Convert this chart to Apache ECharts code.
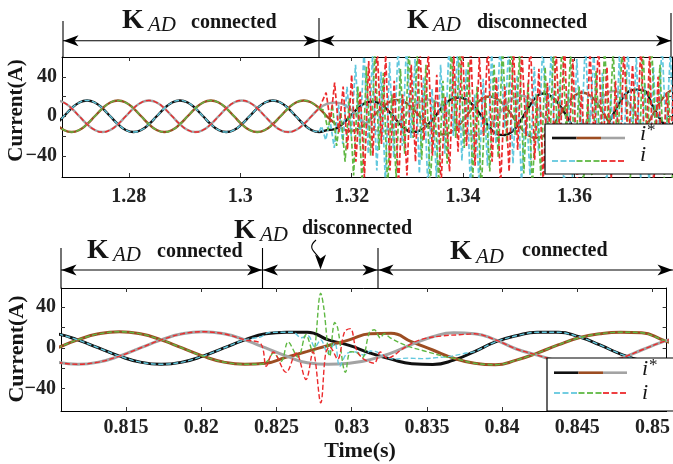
<!DOCTYPE html>
<html><head><meta charset="utf-8">
<script src="https://cdn.jsdelivr.net/npm/echarts@6/dist/echarts.min.js"></script>
<style>html,body{margin:0;padding:0;background:#fff}#c{width:673px;height:464px}</style>
</head><body><div id="c"></div>
<script>
// ================= DATA =================
// Upper plot: sample grid of the reference currents (60 Hz, 12 samples per period)
const topT0 = 1.26694;
const topDt = 1 / 720;
const topRefBlack = [-8,0,8,13.9,16,13.9,8,0,-8,-13.9,-16,-13.9,
  -8,0,8,13.9,16,13.9,8,0,-8,-13.9,-16,-13.9,
  -8,0,8,13.9,16,13.9,8,0,-8,-13.9,-16,
  -14,-13,-8,0,8,13.5,15,12,5,-4,-12,-16,-14.5,-9,0,10,17,19,17,10,0,-11,-18,-19,-15,-5,8,19,23,20,12,0,-13,-22,-24,-21,-12,2,16,25,27,26,12,-2,-12,-18];
const topRefBrown = [-8,-13.9,-16,-13.9,-8,0,8,13.9,16,13.9,8,0,
  -8,-13.9,-16,-13.9,-8,0,8,13.9,16,13.9,8,0,
  -8,-13.9,-16,-13.9,-8,0,8,13.9,16,13.9,8,
  0,-7,-12.5,-15,-13,-7.5,0,8,14,16.5,14.5,8.5,0,-9,-16,-18.5,-16.5,-9.5,0,10,17.3,20,17.5,10.5,0,-11,-19,-22,-20,-11.5,0,12,20.5,24,21,12.5,0,-13,-22.5,-26,-23.5,-13.5,0,13.5,23.5,27];
const topRefGrey = [16,13.9,8,0,-8,-13.9,-16,-13.9,-8,0,8,13.9,
  16,13.9,8,0,-8,-13.9,-16,-13.9,-8,0,8,13.9,
  16,13.9,8,0,-8,-13.9,-16,-13.9,-8,0,8,
  12.5,14,12.5,7.5,0,-7.5,-13,-15.5,-13.5,-8,0,8.5,14.5,17,15,9,0,-9.5,-16.5,-19.5,-17,-10,0,10,18,21,19,11,0,-11.5,-20.5,-23.5,-20.5,-12,0,12.5,22,25.5,23,13.5,0,-13.5,-23.5,-27,-23.5,-13.5];
const topSwitchIndex = 34;          // K_AD opens at this sample (t ≈ 1.314 s)
// measured currents after K_AD opens (interleaved samples, step = topNoiseStep grid samples)
const topNoiseStep = 0.55;
const topCyanOffset = 0.3, topGreenOffset = 0.6, topRedOffset = 0.9;
const topCyanB = [-10,-24,-4,-32,12,-28,30,-20,52,-30,
  68,-38,62,-55,45,-66,55,-42,72,-30,
  75,-22,58,-58,40,-72,28,-62,52,-38,
  78,-20,70,-45,48,-72,22,-66,38,-50,
  66,-28,78,-12,70,-48,42,-68,18,-60,
  50,-35,74,-22,66,-52,36,-74,26,-62,
  58,-30,76,-18,68,-48,44,-70,22,-58,
  62,-40,70,-26,60,-64,34,-72,50,-44,
  76,-20,66,-56,30,-70,56,-34,74,-24,
  62,-50];
const topGreenB = [6,-14,12,-30,4,-46,18,-60,30,-70,
  50,-40,66,-34,44,-72,22,-62,48,-38,
  70,-22,66,-44,52,-72,16,-66,36,-48,
  72,-22,74,-32,56,-62,30,-76,20,-56,
  52,-42,72,-26,76,-20,62,-58,34,-74,
  22,-60,50,-40,70,-28,78,-18,64,-54,
  30,-72,18,-60,46,-44,72,-24,68,-36,
  60,44,-66,28,-58,70,-30,76,-22,52,
  -64,24,-70,40,-46,72,-26,68,-40,56,
  -62,30];
const topRedB = [24,-6,34,-16,30,-34,42,-46,26,-62,
  56,-40,70,-28,62,-55,36,-70,22,-60,
  52,-46,74,-24,66,-40,42,-70,20,-56,
  62,-36,76,-30,70,-50,60,-20,74,-46,
  40,-70,30,-56,72,-34,66,-20,78,-44,
  48,-66,34,-58,70,-26,74,-40,58,-68,
  26,-52,68,-30,76,-42,50,-64,36,-48,
  70,-38,52,-22,74,-58,64,-72,40,-56,
  24,-30,66,-40,78,-64,58,-50,30,-24,
  72,66];

// Lower plot: references
const botT0 = 0.8090;
const botDt = 1 / 720;
const botRefBlack = [16,13.9,8,0,-8,-13.9,-16,-13.9,-8,0,8,14,15.5,15.5,8,2.5,-5,-11,-15.5,-16.2,-12,-3.5,6,12,15.5,15.5,11,3,-6,-12.5,-15.5,-15.5];
const botRefBrown = [-8,0,8,13.9,16,13.9,8,0,-8,-13.9,-16,-15,-9,-3.3,2.4,8,14,14.5,6,-2,-10,-15,-16.5,-12,-5,3,10,14,15.5,15,8,0];
const botRefGrey = [-8,-13.9,-16,-13.9,-8,0,8,13.9,16,13.9,8,0,-8,-14.5,-16,-15,-11.5,-5,3.5,11,15,14,8,-1,-7,-13,-16,-15,-10,-2,6,12];
// Lower plot: measured currents during the transient (time, value)
const botCyanT = [0.82396,0.82445,0.82531,0.82610,0.82663,0.82709,0.82755,0.82794,0.82841,0.82887,0.82920,0.82972,0.83025,0.83084,0.83124,0.83170,0.83216,0.83282,0.83368,0.83466,0.83565,0.83664,0.83763];
const botCyanV = [11,15,15.5,15.5,10,12,1,8,-5,5,-18,-5,-4,-7,-3,-4,-8,-11,-10,-10.5,-9.5,-8,-5];
const botGreenT = [0.82396,0.82445,0.82478,0.82531,0.82577,0.82643,0.82696,0.82742,0.82794,0.82814,0.82854,0.82887,0.82906,0.82959,0.82992,0.83038,0.83071,0.83117,0.83150,0.83190,0.83216,0.83256,0.83368,0.83499,0.83631];
const botGreenV = [-16,-12,-5,-13,6,-9,13,-5,54,40,-8,25,20,-24,-3.6,-5,-9.5,15,18,10,14,10,2,-3.6,-9];
const botRedT = [0.82396,0.82432,0.82478,0.82564,0.82630,0.82696,0.82742,0.82794,0.82827,0.82854,0.82906,0.82953,0.82992,0.83025,0.83058,0.83104,0.83150,0.83190,0.83236,0.83348,0.83453,0.83611,0.83717];
const botRedV = [4,-18,-4,-24,-5,-31,-3.6,-54,-5,1,-11,16,19,1,-8,-13,-15,-4,-10,0,8,12,13];

// axes
const topXRange = [1.268, 1.3775];
const botXRange = [0.81067, 0.85094];
const topYRange = [-61.5, 60];
const botYRange = [-62, 59];
const topXTicks = [1.28, 1.30, 1.32, 1.34, 1.36];
const botXTicks = [0.815, 0.82, 0.825, 0.83, 0.835, 0.84, 0.845, 0.85];
const yTicks = [-40, -20, 0, 20, 40];
const yLabels = [-40, 0, 40];

// ================= BUILD =================
const C = {black:'#111111', brown:'#9c4d22', grey:'#a3a3a3', cyan:'#62c8de', green:'#5fb843', red:'#ec2a2c'};
const FONT = "'Liberation Serif','Times New Roman',serif";

const topX = topRefBlack.map((_, k) => topT0 + k * topDt);
const pairs = (xs, vs) => xs.map((t, i) => [t, vs[i]]);
const topMeasA = (ref) => pairs(topX.slice(0, topSwitchIndex + 1), ref.slice(0, topSwitchIndex + 1));
const topMeasB = (ref, off, vals) => [[topX[topSwitchIndex], ref[topSwitchIndex]]].concat(
  vals.map((v, j) => [topT0 + (topSwitchIndex + off + j * topNoiseStep) * topDt, v]));

const botX = botRefBlack.map((_, k) => botT0 + k * botDt);
function botMeas(ref, tt, tv) {
  const first = tt[0], last = tt[tt.length - 1];
  const out = [];
  botX.forEach((t, i) => { if (t < first - 1e-9) out.push([t, ref[i]]); });
  tt.forEach((t, i) => out.push([t, tv[i]]));
  botX.forEach((t, i) => { if (t > last + 1e-9) out.push([t, ref[i]]); });
  return out;
}

const lblFmt = v => { const n = +(+v).toFixed(4); return n < 0 ? '\u2212' + Math.abs(n) : String(n); };
const axisLineS = {show: true, onZero: false, lineStyle: {color: '#000', width: 1}};
const labelS = {fontSize: 20, fontWeight: 'bold', fontFamily: FONT, color: '#222'};

function xAx(grid, range, ticks, pos, showLabel, margin) {
  return {type: 'value', gridIndex: grid, min: range[0], max: range[1], position: pos,
    axisLine: axisLineS, splitLine: {show: false},
    axisTick: {show: true, inside: true, length: 4, customValues: ticks, lineStyle: {color: '#333'}},
    axisLabel: Object.assign({show: showLabel, customValues: ticks, formatter: lblFmt, margin: margin || 7}, labelS)};
}
function yAx(grid, range, pos, showLabel) {
  return {type: 'value', gridIndex: grid, min: range[0], max: range[1], position: pos,
    axisLine: axisLineS, splitLine: {show: false},
    axisTick: {show: true, inside: true, length: 4, customValues: yTicks, lineStyle: {color: '#333'}},
    axisLabel: Object.assign({show: showLabel, customValues: yLabels, formatter: lblFmt, margin: 5}, labelS)};
}

function refSeries(xi, yi, data, color, w) {
  return {type: 'line', xAxisIndex: xi, yAxisIndex: yi, data, showSymbol: false, smooth: 0.5,
    lineStyle: {color, width: w}, silent: true};
}
function measSeries(xi, yi, data, color, smooth, w) {
  return {type: 'line', xAxisIndex: xi, yAxisIndex: yi, data, showSymbol: false, smooth,
    lineStyle: {color, width: w || 1.4, type: [5, 2.5]}, silent: true};
}

const series = [
  refSeries(0, 0, pairs(topX, topRefBlack), C.black, 2.4),
  refSeries(0, 0, pairs(topX, topRefBrown), C.brown, 2.4),
  refSeries(0, 0, pairs(topX, topRefGrey), C.grey, 2.4),
  measSeries(0, 0, topMeasA(topRefBlack), C.cyan, 0.5),
  measSeries(0, 0, topMeasA(topRefBrown), C.green, 0.5),
  measSeries(0, 0, topMeasA(topRefGrey), C.red, 0.5),
  measSeries(0, 0, topMeasB(topRefBlack, topCyanOffset, topCyanB), C.cyan, false, 1.7),
  measSeries(0, 0, topMeasB(topRefBrown, topGreenOffset, topGreenB), C.green, false, 1.7),
  measSeries(0, 0, topMeasB(topRefGrey, topRedOffset, topRedB), C.red, false, 1.7),
  refSeries(2, 2, pairs(botX, botRefBlack), C.black, 3),
  refSeries(2, 2, pairs(botX, botRefBrown), C.brown, 3),
  refSeries(2, 2, pairs(botX, botRefGrey), C.grey, 3),
  measSeries(2, 2, botMeas(botRefBlack, botCyanT, botCyanV), C.cyan, 0.35),
  measSeries(2, 2, botMeas(botRefBrown, botGreenT, botGreenV), C.green, 0.35),
  measSeries(2, 2, botMeas(botRefGrey, botRedT, botRedV), C.red, 0.35)
];

// ---------- annotations ----------
const G = [];
const line = (x1, y1, x2, y2, w, color) => G.push({type: 'line', z: 100, silent: true,
  shape: {x1, y1, x2, y2}, style: {stroke: color || '#000', lineWidth: w || 1}});
function dashes(x1, x2, y, color) {
  for (let x = x1; x < x2 - 0.5; x += 8.5) line(x, y, Math.min(x + 6, x2), y, 1.8, color);
}
function head(x, y, dir) {
  const L = 15, W = 5.5, N = 4;
  let p;
  if (dir === 'r') p = [[x, y], [x - L, y - W], [x - L + N, y], [x - L, y + W]];
  else if (dir === 'l') p = [[x, y], [x + L, y - W], [x + L - N, y], [x + L, y + W]];
  else p = [[x, y], [x - W, y - L], [x, y - L + N], [x + W, y - L]];
  G.push({type: 'polygon', z: 100, silent: true, shape: {points: p}, style: {fill: '#000'}});
}
function text(x, baseline, s, size, weight, style) {
  G.push({type: 'text', z: 100, silent: true, x, y: baseline - 0.34 * size,
    style: {text: s, fontSize: size, fontFamily: FONT, fontWeight: weight || 'normal', fontStyle: style || 'normal',
      fill: '#151515', align: 'left', verticalAlign: 'middle'}});
}
function kad(x, baseline, word, wx, wb) {
  text(x, baseline, 'K', 28, 'bold');
  text(x + 26, baseline + 3, 'AD', 21, 'normal', 'italic');
  text(wx, wb, word, 20, 'bold');
}
// top annotations
line(63, 40.7, 671, 40.7, 1.1);
line(63, 21, 63, 57, 1.1); line(319, 18, 319, 57, 1.1); line(671, 13, 671, 57, 1.1);
head(63.5, 40.7, 'l'); head(318.5, 40.7, 'r'); head(319.5, 40.7, 'l'); head(671, 40.7, 'r');
kad(122, 30, 'connected', 191, 29.5);
kad(407, 30, 'disconnected', 477, 29.5);
// bottom annotations
line(61, 270, 673, 270, 1.1);
line(61, 248, 61, 288, 1.1); line(262.5, 248, 262.5, 288, 1.1); line(378, 248, 378, 288, 1.1);
head(61.5, 270, 'l'); head(262, 270, 'r'); head(263, 270, 'l'); head(377.5, 270, 'r'); head(378.5, 270, 'l'); head(672.5, 270, 'r');
kad(87, 260, 'connected', 157, 258.3);
kad(234, 240, 'disconnected', 302, 236);
kad(450, 261.5, 'connected', 522, 258);
G.push({type: 'bezierCurve', z: 100, silent: true,
  shape: {x1: 316, y1: 240, cpx1: 304, cpy1: 250, cpx2: 321, cpy2: 254, x2: 320.5, y2: 262},
  style: {stroke: '#000', lineWidth: 1.1, fill: null}});
head(320.5, 269.5, 'd');
// axis titles
G.push({type: 'text', z: 100, silent: true, x: 17, y: 110.5, rotation: Math.PI / 2,
  style: {text: 'Current(A)', fontSize: 21, fontWeight: 'bold', fontFamily: FONT, fill: '#151515', align: 'center', verticalAlign: 'middle'}});
G.push({type: 'text', z: 100, silent: true, x: 17, y: 349, rotation: Math.PI / 2,
  style: {text: 'Current(A)', fontSize: 22, fontWeight: 'bold', fontFamily: FONT, fill: '#151515', align: 'center', verticalAlign: 'middle'}});
G.push({type: 'text', z: 100, silent: true, x: 360, y: 451,
  style: {text: 'Time(s)', fontSize: 22, fontWeight: 'bold', fontFamily: FONT, fill: '#151515', align: 'center', verticalAlign: 'middle'}});
// legends
function legend(x, y, h, y1, y2, lx, b1, b2) {
  G.push({type: 'rect', z: 100, silent: true, shape: {x, y, width: 140, height: h},
    style: {fill: '#fff', stroke: '#000', lineWidth: 1.2}});
  const xs = [lx, lx + 24.5, lx + 49, lx + 73];
  line(xs[0], y1, xs[1], y1, 2.6, C.black); line(xs[1], y1, xs[2], y1, 2.6, C.brown); line(xs[2], y1, xs[3], y1, 2.6, C.grey);
  dashes(xs[0], xs[1], y2, C.cyan); dashes(xs[1], xs[2], y2, C.green); dashes(xs[2], xs[3], y2, C.red);
  text(lx + 88, b1, 'i', 22, 'normal', 'italic');
  text(lx + 95, b1 - 6, '*', 17, 'normal', 'normal');
  text(lx + 88, b2, 'i', 22, 'normal', 'italic');
}
legend(545, 124, 50, 138, 161, 552, 142, 163);
legend(547, 358, 53, 372.7, 393, 554, 377, 400.5);

const option = {
  animation: false,
  backgroundColor: '#fff',
  grid: [
    {left: 62, top: 57, width: 610, height: 120, show: false},
    {left: 61, top: 288, width: 611, height: 123, show: false}
  ],
  xAxis: [
    xAx(0, topXRange, topXTicks, 'bottom', true, 10),
    xAx(0, topXRange, topXTicks, 'top', false),
    xAx(1, botXRange, botXTicks, 'bottom', true, 7),
    xAx(1, botXRange, botXTicks, 'top', false)
  ],
  yAxis: [
    yAx(0, topYRange, 'left', true),
    yAx(0, topYRange, 'right', false),
    yAx(1, botYRange, 'left', true),
    yAx(1, botYRange, 'right', false)
  ],
  series,
  graphic: G
};
const chart = echarts.init(document.getElementById('c'), null, {renderer: 'canvas'});
chart.setOption(option);
</script></body></html>
